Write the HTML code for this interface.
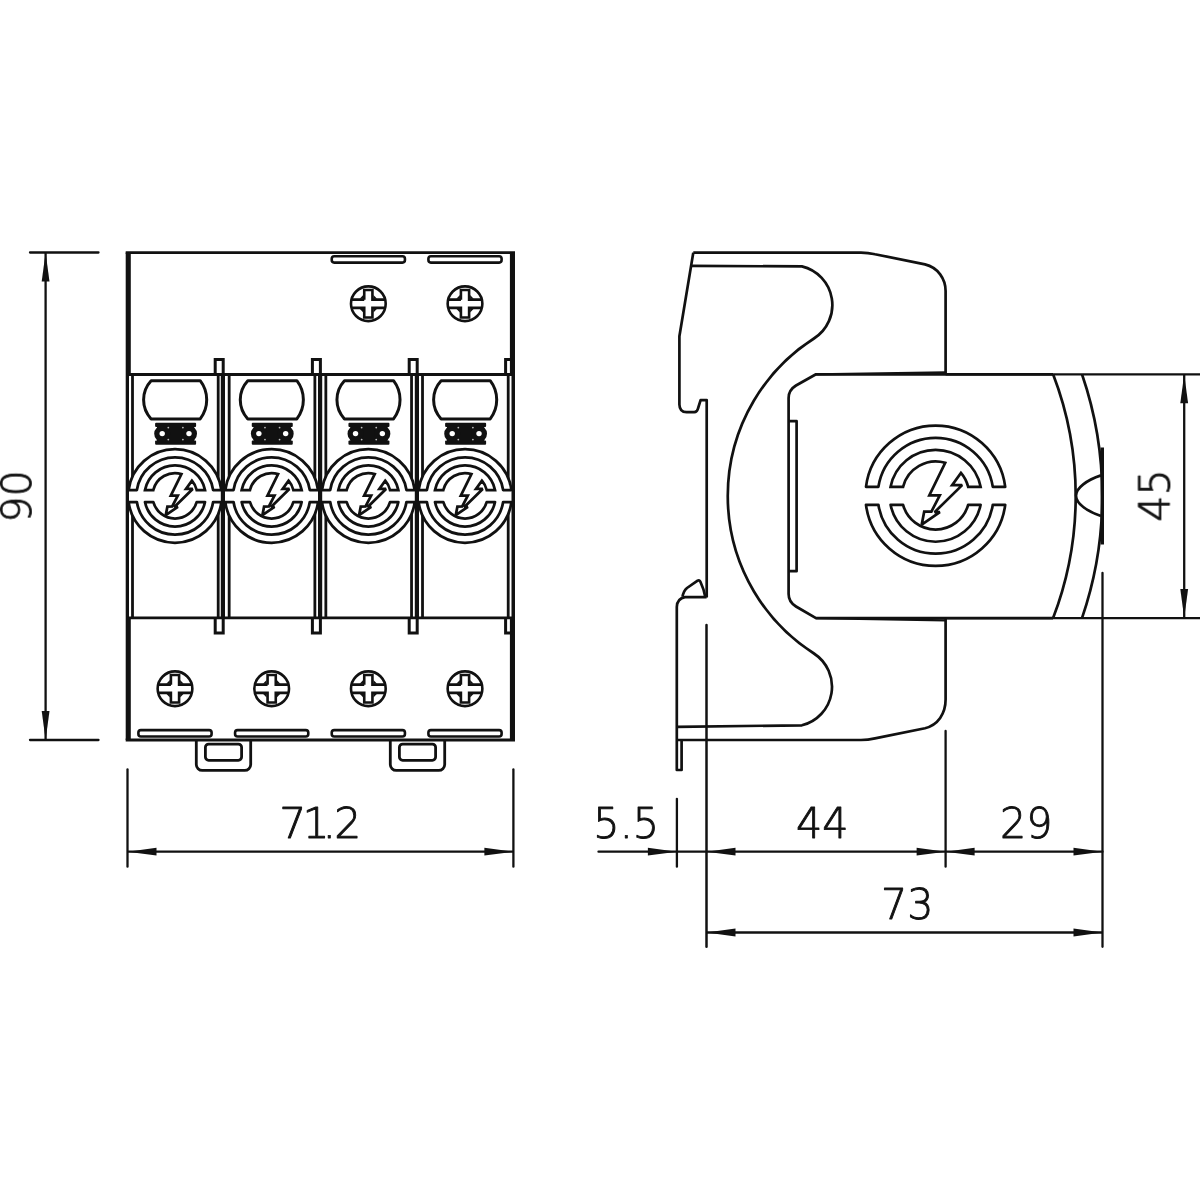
<!DOCTYPE html>
<html lang="en">
<head>
<meta charset="utf-8">
<title>Dimensional drawing</title>
<style>
html,body{margin:0;padding:0;background:#fff}
body{width:1200px;height:1200px;overflow:hidden}
svg{display:block}
</style>
</head>
<body>
<svg width="1200" height="1200" viewBox="0 0 1200 1200">
<rect width="1200" height="1200" fill="#fff"/>
<g id="front" stroke="#111111" fill="none">
<line x1="132.5" y1="374.5" x2="132.5" y2="617.8" stroke-width="2.8"/>
<line x1="218.2" y1="374.5" x2="218.2" y2="617.8" stroke-width="2.8"/>
<line x1="229.17" y1="374.5" x2="229.17" y2="617.8" stroke-width="2.8"/>
<line x1="314.87" y1="374.5" x2="314.87" y2="617.8" stroke-width="2.8"/>
<line x1="325.84" y1="374.5" x2="325.84" y2="617.8" stroke-width="2.8"/>
<line x1="411.54" y1="374.5" x2="411.54" y2="617.8" stroke-width="2.8"/>
<line x1="422.51" y1="374.5" x2="422.51" y2="617.8" stroke-width="2.8"/>
<line x1="508.21" y1="374.5" x2="508.21" y2="617.8" stroke-width="2.8"/>
<path d="M151.1,380.7H200.2A31.31 31.31 0 0 1 200.2,418.9H151.1A28.07 28.07 0 0 1 151.1,380.7Z" stroke-width="3" fill="none" stroke-linejoin="round"/>
<g fill="#111111" stroke="none">
<rect x="155.1" y="422.7" width="41" height="4.4" rx="1"/>
<rect x="155.1" y="440.4" width="41" height="4.4" rx="1"/>
<rect x="157" y="425" width="37.2" height="17.5"/>
<circle cx="162.2" cy="433.75" r="8"/>
<circle cx="189" cy="433.75" r="8"/>
</g>
<g fill="#fff" stroke="none">
<circle cx="162.2" cy="433.6" r="2.7"/><circle cx="189" cy="433.6" r="2.7"/>
<circle cx="168.3" cy="427.6" r="0.9" fill="#bbb"/>
<circle cx="168.3" cy="439.6" r="0.9" fill="#bbb"/>
<circle cx="182.9" cy="427.6" r="0.9" fill="#bbb"/>
<circle cx="182.9" cy="439.6" r="0.9" fill="#bbb"/>
</g>
<g transform="translate(175 496) scale(1)" stroke-width="2.75" fill="#fff" stroke-linejoin="round">
<circle r="46.8" stroke="none"/>
<path d="M-46.41,-6A46.8 46.8 0 0 1 46.41,-6L38.13,-6A38.6 38.6 0 0 0 -38.13,-6Z"/>
<path d="M-46.41,6A46.8 46.8 0 0 0 46.41,6L38.13,6A38.6 38.6 0 0 1 -38.13,6Z"/>
<path d="M-30.01,6A30.6 30.6 0 0 0 30.01,6L21.69,6A22.5 22.5 0 0 1 -21.69,6Z"/>
<path d="M-30.01,-6A30.6 30.6 0 0 1 30.01,-6L21.69,-6A22.5 22.5 0 0 0 16.9,-15.3L11,-7.1L17.7,-7.1L-0.65,10.9L2.85,10.85L-9.25,19.2L-7.6,10.6L-2.8,10.5L2.8,-0.3L-4.2,-0.3L6.4,-22A22.5 22.5 0 0 0 -21.69,-6Z" stroke-linejoin="miter" stroke-miterlimit="2.2"/>
</g>
<path d="M247.77,380.7H296.87A31.31 31.31 0 0 1 296.87,418.9H247.77A28.07 28.07 0 0 1 247.77,380.7Z" stroke-width="3" fill="none" stroke-linejoin="round"/>
<g fill="#111111" stroke="none">
<rect x="251.77" y="422.7" width="41" height="4.4" rx="1"/>
<rect x="251.77" y="440.4" width="41" height="4.4" rx="1"/>
<rect x="253.67" y="425" width="37.2" height="17.5"/>
<circle cx="258.87" cy="433.75" r="8"/>
<circle cx="285.67" cy="433.75" r="8"/>
</g>
<g fill="#fff" stroke="none">
<circle cx="258.87" cy="433.6" r="2.7"/><circle cx="285.67" cy="433.6" r="2.7"/>
<circle cx="264.97" cy="427.6" r="0.9" fill="#bbb"/>
<circle cx="264.97" cy="439.6" r="0.9" fill="#bbb"/>
<circle cx="279.57" cy="427.6" r="0.9" fill="#bbb"/>
<circle cx="279.57" cy="439.6" r="0.9" fill="#bbb"/>
</g>
<g transform="translate(271.67 496) scale(1)" stroke-width="2.75" fill="#fff" stroke-linejoin="round">
<circle r="46.8" stroke="none"/>
<path d="M-46.41,-6A46.8 46.8 0 0 1 46.41,-6L38.13,-6A38.6 38.6 0 0 0 -38.13,-6Z"/>
<path d="M-46.41,6A46.8 46.8 0 0 0 46.41,6L38.13,6A38.6 38.6 0 0 1 -38.13,6Z"/>
<path d="M-30.01,6A30.6 30.6 0 0 0 30.01,6L21.69,6A22.5 22.5 0 0 1 -21.69,6Z"/>
<path d="M-30.01,-6A30.6 30.6 0 0 1 30.01,-6L21.69,-6A22.5 22.5 0 0 0 16.9,-15.3L11,-7.1L17.7,-7.1L-0.65,10.9L2.85,10.85L-9.25,19.2L-7.6,10.6L-2.8,10.5L2.8,-0.3L-4.2,-0.3L6.4,-22A22.5 22.5 0 0 0 -21.69,-6Z" stroke-linejoin="miter" stroke-miterlimit="2.2"/>
</g>
<path d="M344.44,380.7H393.54A31.31 31.31 0 0 1 393.54,418.9H344.44A28.07 28.07 0 0 1 344.44,380.7Z" stroke-width="3" fill="none" stroke-linejoin="round"/>
<g fill="#111111" stroke="none">
<rect x="348.44" y="422.7" width="41" height="4.4" rx="1"/>
<rect x="348.44" y="440.4" width="41" height="4.4" rx="1"/>
<rect x="350.34" y="425" width="37.2" height="17.5"/>
<circle cx="355.54" cy="433.75" r="8"/>
<circle cx="382.34" cy="433.75" r="8"/>
</g>
<g fill="#fff" stroke="none">
<circle cx="355.54" cy="433.6" r="2.7"/><circle cx="382.34" cy="433.6" r="2.7"/>
<circle cx="361.64" cy="427.6" r="0.9" fill="#bbb"/>
<circle cx="361.64" cy="439.6" r="0.9" fill="#bbb"/>
<circle cx="376.24" cy="427.6" r="0.9" fill="#bbb"/>
<circle cx="376.24" cy="439.6" r="0.9" fill="#bbb"/>
</g>
<g transform="translate(368.34 496) scale(1)" stroke-width="2.75" fill="#fff" stroke-linejoin="round">
<circle r="46.8" stroke="none"/>
<path d="M-46.41,-6A46.8 46.8 0 0 1 46.41,-6L38.13,-6A38.6 38.6 0 0 0 -38.13,-6Z"/>
<path d="M-46.41,6A46.8 46.8 0 0 0 46.41,6L38.13,6A38.6 38.6 0 0 1 -38.13,6Z"/>
<path d="M-30.01,6A30.6 30.6 0 0 0 30.01,6L21.69,6A22.5 22.5 0 0 1 -21.69,6Z"/>
<path d="M-30.01,-6A30.6 30.6 0 0 1 30.01,-6L21.69,-6A22.5 22.5 0 0 0 16.9,-15.3L11,-7.1L17.7,-7.1L-0.65,10.9L2.85,10.85L-9.25,19.2L-7.6,10.6L-2.8,10.5L2.8,-0.3L-4.2,-0.3L6.4,-22A22.5 22.5 0 0 0 -21.69,-6Z" stroke-linejoin="miter" stroke-miterlimit="2.2"/>
</g>
<path d="M441.11,380.7H490.21A31.31 31.31 0 0 1 490.21,418.9H441.11A28.07 28.07 0 0 1 441.11,380.7Z" stroke-width="3" fill="none" stroke-linejoin="round"/>
<g fill="#111111" stroke="none">
<rect x="445.11" y="422.7" width="41" height="4.4" rx="1"/>
<rect x="445.11" y="440.4" width="41" height="4.4" rx="1"/>
<rect x="447.01" y="425" width="37.2" height="17.5"/>
<circle cx="452.21" cy="433.75" r="8"/>
<circle cx="479.01" cy="433.75" r="8"/>
</g>
<g fill="#fff" stroke="none">
<circle cx="452.21" cy="433.6" r="2.7"/><circle cx="479.01" cy="433.6" r="2.7"/>
<circle cx="458.31" cy="427.6" r="0.9" fill="#bbb"/>
<circle cx="458.31" cy="439.6" r="0.9" fill="#bbb"/>
<circle cx="472.91" cy="427.6" r="0.9" fill="#bbb"/>
<circle cx="472.91" cy="439.6" r="0.9" fill="#bbb"/>
</g>
<g transform="translate(465.01 496) scale(1)" stroke-width="2.75" fill="#fff" stroke-linejoin="round">
<circle r="46.8" stroke="none"/>
<path d="M-46.41,-6A46.8 46.8 0 0 1 46.41,-6L38.13,-6A38.6 38.6 0 0 0 -38.13,-6Z"/>
<path d="M-46.41,6A46.8 46.8 0 0 0 46.41,6L38.13,6A38.6 38.6 0 0 1 -38.13,6Z"/>
<path d="M-30.01,6A30.6 30.6 0 0 0 30.01,6L21.69,6A22.5 22.5 0 0 1 -21.69,6Z"/>
<path d="M-30.01,-6A30.6 30.6 0 0 1 30.01,-6L21.69,-6A22.5 22.5 0 0 0 16.9,-15.3L11,-7.1L17.7,-7.1L-0.65,10.9L2.85,10.85L-9.25,19.2L-7.6,10.6L-2.8,10.5L2.8,-0.3L-4.2,-0.3L6.4,-22A22.5 22.5 0 0 0 -21.69,-6Z" stroke-linejoin="miter" stroke-miterlimit="2.2"/>
</g>
<line x1="125.7" y1="252.6" x2="515" y2="252.6" stroke-width="2.7"/>
<line x1="125.7" y1="740" x2="515" y2="740" stroke-width="2.9"/>
<line x1="128.1" y1="374.5" x2="512.3" y2="374.5" stroke-width="2.8"/>
<line x1="128.1" y1="617.8" x2="512.3" y2="617.8" stroke-width="2.8"/>
<line x1="127.35" y1="252.6" x2="127.35" y2="740" stroke-width="3.3"/>
<line x1="513.25" y1="252.6" x2="513.25" y2="740" stroke-width="3.5"/>
<line x1="129.4" y1="252.6" x2="129.4" y2="374.5" stroke-width="2.8"/>
<line x1="511.3" y1="252.6" x2="511.3" y2="374.5" stroke-width="2.8"/>
<line x1="129.4" y1="617.8" x2="129.4" y2="740" stroke-width="2.8"/>
<line x1="511.3" y1="617.8" x2="511.3" y2="740" stroke-width="2.8"/>
<line x1="222.9" y1="374.5" x2="222.9" y2="617.8" stroke-width="4.2"/>
<path d="M215.2,374.5V359.5H223.2V374.5" stroke-width="3" fill="none"/>
<path d="M215.2,617.8V632.9H223.2V617.8" stroke-width="3" fill="none"/>
<line x1="320.1" y1="374.5" x2="320.1" y2="617.8" stroke-width="4.2"/>
<path d="M312.4,374.5V359.5H320.4V374.5" stroke-width="3" fill="none"/>
<path d="M312.4,617.8V632.9H320.4V617.8" stroke-width="3" fill="none"/>
<line x1="416.9" y1="374.5" x2="416.9" y2="617.8" stroke-width="4.2"/>
<path d="M409.2,374.5V359.5H417.2V374.5" stroke-width="3" fill="none"/>
<path d="M409.2,617.8V632.9H417.2V617.8" stroke-width="3" fill="none"/>
<path d="M512.3,359.5H505.6V374.5" stroke-width="3" fill="none"/>
<path d="M512.3,632.9H505.6V617.8" stroke-width="3" fill="none"/>
<rect x="331.74" y="256.3" width="73.2" height="6.3" rx="2.5" stroke-width="2.6" fill="none"/>
<rect x="428.41" y="256.3" width="73.2" height="6.3" rx="2.5" stroke-width="2.6" fill="none"/>
<rect x="138.4" y="730.1" width="73.2" height="6.4" rx="2.5" stroke-width="2.6" fill="none"/>
<rect x="235.07" y="730.1" width="73.2" height="6.4" rx="2.5" stroke-width="2.6" fill="none"/>
<rect x="331.74" y="730.1" width="73.2" height="6.4" rx="2.5" stroke-width="2.6" fill="none"/>
<rect x="428.41" y="730.1" width="73.2" height="6.4" rx="2.5" stroke-width="2.6" fill="none"/>
<g transform="translate(368.34 303.75)">
<circle r="17.35" stroke-width="2.6" fill="none"/>
<path d="M-4.1,-4.1V-13.8H4.1V-4.1H16.6M16.6,4.1H4.1V13.8H-4.1V4.1H-16.6M-16.6,-4.1H-4.1" stroke-width="2.6" fill="none"/>
<path d="M-5.1,-5.1L-8.7,-5.1L-5.1,-8.7Z" fill="#111111" stroke="none"/>
<path d="M-5.1,5.1L-8.7,5.1L-5.1,8.7Z" fill="#111111" stroke="none"/>
<path d="M5.1,-5.1L8.7,-5.1L5.1,-8.7Z" fill="#111111" stroke="none"/>
<path d="M5.1,5.1L8.7,5.1L5.1,8.7Z" fill="#111111" stroke="none"/>
</g>
<g transform="translate(465.01 303.75)">
<circle r="17.35" stroke-width="2.6" fill="none"/>
<path d="M-4.1,-4.1V-13.8H4.1V-4.1H16.6M16.6,4.1H4.1V13.8H-4.1V4.1H-16.6M-16.6,-4.1H-4.1" stroke-width="2.6" fill="none"/>
<path d="M-5.1,-5.1L-8.7,-5.1L-5.1,-8.7Z" fill="#111111" stroke="none"/>
<path d="M-5.1,5.1L-8.7,5.1L-5.1,8.7Z" fill="#111111" stroke="none"/>
<path d="M5.1,-5.1L8.7,-5.1L5.1,-8.7Z" fill="#111111" stroke="none"/>
<path d="M5.1,5.1L8.7,5.1L5.1,8.7Z" fill="#111111" stroke="none"/>
</g>
<g transform="translate(175 688.75)">
<circle r="17.35" stroke-width="2.6" fill="none"/>
<path d="M-4.1,-4.1V-13.8H4.1V-4.1H16.6M16.6,4.1H4.1V13.8H-4.1V4.1H-16.6M-16.6,-4.1H-4.1" stroke-width="2.6" fill="none"/>
<path d="M-5.1,-5.1L-8.7,-5.1L-5.1,-8.7Z" fill="#111111" stroke="none"/>
<path d="M-5.1,5.1L-8.7,5.1L-5.1,8.7Z" fill="#111111" stroke="none"/>
<path d="M5.1,-5.1L8.7,-5.1L5.1,-8.7Z" fill="#111111" stroke="none"/>
<path d="M5.1,5.1L8.7,5.1L5.1,8.7Z" fill="#111111" stroke="none"/>
</g>
<g transform="translate(271.67 688.75)">
<circle r="17.35" stroke-width="2.6" fill="none"/>
<path d="M-4.1,-4.1V-13.8H4.1V-4.1H16.6M16.6,4.1H4.1V13.8H-4.1V4.1H-16.6M-16.6,-4.1H-4.1" stroke-width="2.6" fill="none"/>
<path d="M-5.1,-5.1L-8.7,-5.1L-5.1,-8.7Z" fill="#111111" stroke="none"/>
<path d="M-5.1,5.1L-8.7,5.1L-5.1,8.7Z" fill="#111111" stroke="none"/>
<path d="M5.1,-5.1L8.7,-5.1L5.1,-8.7Z" fill="#111111" stroke="none"/>
<path d="M5.1,5.1L8.7,5.1L5.1,8.7Z" fill="#111111" stroke="none"/>
</g>
<g transform="translate(368.34 688.75)">
<circle r="17.35" stroke-width="2.6" fill="none"/>
<path d="M-4.1,-4.1V-13.8H4.1V-4.1H16.6M16.6,4.1H4.1V13.8H-4.1V4.1H-16.6M-16.6,-4.1H-4.1" stroke-width="2.6" fill="none"/>
<path d="M-5.1,-5.1L-8.7,-5.1L-5.1,-8.7Z" fill="#111111" stroke="none"/>
<path d="M-5.1,5.1L-8.7,5.1L-5.1,8.7Z" fill="#111111" stroke="none"/>
<path d="M5.1,-5.1L8.7,-5.1L5.1,-8.7Z" fill="#111111" stroke="none"/>
<path d="M5.1,5.1L8.7,5.1L5.1,8.7Z" fill="#111111" stroke="none"/>
</g>
<g transform="translate(465.01 688.75)">
<circle r="17.35" stroke-width="2.6" fill="none"/>
<path d="M-4.1,-4.1V-13.8H4.1V-4.1H16.6M16.6,4.1H4.1V13.8H-4.1V4.1H-16.6M-16.6,-4.1H-4.1" stroke-width="2.6" fill="none"/>
<path d="M-5.1,-5.1L-8.7,-5.1L-5.1,-8.7Z" fill="#111111" stroke="none"/>
<path d="M-5.1,5.1L-8.7,5.1L-5.1,8.7Z" fill="#111111" stroke="none"/>
<path d="M5.1,-5.1L8.7,-5.1L5.1,-8.7Z" fill="#111111" stroke="none"/>
<path d="M5.1,5.1L8.7,5.1L5.1,8.7Z" fill="#111111" stroke="none"/>
</g>
<path d="M196.3,740.0V764.4a6 6 0 0 0 6,6H244.7a6 6 0 0 0 6,-6V740.0" stroke-width="2.8" fill="none"/>
<rect x="205.4" y="744.1" width="36.2" height="16.2" rx="3.2" stroke-width="2.8"/>
<path d="M390.3,740.0V764.4a6 6 0 0 0 6,6H438.7a6 6 0 0 0 6,-6V740.0" stroke-width="2.8" fill="none"/>
<rect x="399.4" y="744.1" width="36.2" height="16.2" rx="3.2" stroke-width="2.8"/>
</g>
<g id="side" stroke="#111111" fill="none" stroke-linejoin="round">
<path d="M693.3,252.6H861Q868,252.6 875,254.2L925,264.4C938,267.5 945.6,279 945.6,291V374.3" stroke-width="2.7" fill="none"/>
<path d="M676.9,740.0H861Q868,740.0 875,738.4L925,728.2C938,725.1 945.6,713.6 945.6,699.6V618.1" stroke-width="2.7" fill="none"/>
<path d="M816,374.3L945.6,372.5" stroke-width="2.3" fill="none"/>
<path d="M816,618.2L945.6,620.3" stroke-width="2.3" fill="none"/>
<path d="M693.3,252.6L679.4,336.3V404.5Q679.6,412.2 686.5,412.2H694.3Q697,412.2 698,408.5L700.6,400.1H706.7V597.4" stroke-width="2.7" fill="none"/>
<path d="M706.6,597.2H685Q677.2,598.5 676.8,607V770H681.6V740.0" stroke-width="2.7" fill="none"/>
<path d="M682.5,596.8Q683.5,591 687,588L697.6,580.6Q699.4,579.6 700.4,581.8Q704,589.5 705.3,597" stroke-width="2.7" fill="none"/>
<path d="M691.5,265.9L801.9,266.4A39.7 39.7 0 0 1 813.95,338.5A187 187 0 0 0 813.95,653.5A39.7 39.7 0 0 1 801.9,725.3L676.9,726.8" stroke-width="2.7" fill="none"/>
<path d="M1053,374.3H816L796,385.5Q788.6,390 788.6,398V594Q788.6,602 796,606.5L816,618.1H1053" stroke-width="2.7" fill="none"/>
<path d="M788.6,421.2H796.6V571.2H788.6" stroke-width="2.7" fill="none"/>
<path d="M1053.1,374.3A340.05 340.05 0 0 1 1053.1,618.1" stroke-width="2.7" fill="none"/>
<path d="M1082,374.3A376.15 376.15 0 0 1 1082,618.1" stroke-width="2.7" fill="none"/>
<line x1="1102.3" y1="447.5" x2="1102.3" y2="544.5" stroke-width="3.4"/>
<path d="M1101,475.4C1087,480 1076,488 1076,495.7C1076,503.4 1087,511.4 1101,516" stroke-width="2.7" fill="none"/>
<g transform="translate(935.6 495.8) scale(1.5)" stroke-width="1.8" fill="#fff" stroke-linejoin="round">
<path d="M-46.41,-6A46.8 46.8 0 0 1 46.41,-6L38.13,-6A38.6 38.6 0 0 0 -38.13,-6Z"/>
<path d="M-46.41,6A46.8 46.8 0 0 0 46.41,6L38.13,6A38.6 38.6 0 0 1 -38.13,6Z"/>
<path d="M-30.01,6A30.6 30.6 0 0 0 30.01,6L21.69,6A22.5 22.5 0 0 1 -21.69,6Z"/>
<path d="M-30.01,-6A30.6 30.6 0 0 1 30.01,-6L21.69,-6A22.5 22.5 0 0 0 16.9,-15.3L11,-7.1L17.7,-7.1L-0.65,10.9L2.85,10.85L-9.25,19.2L-7.6,10.6L-2.8,10.5L2.8,-0.3L-4.2,-0.3L6.4,-22A22.5 22.5 0 0 0 -21.69,-6Z" stroke-linejoin="miter" stroke-miterlimit="2.2"/>
</g>
</g>
<g id="dims" stroke="#111111" fill="none" stroke-width="2.3">
<line x1="30" y1="252.5" x2="98.5" y2="252.5" stroke-width="2.3" stroke-linecap="round"/>
<line x1="30" y1="740" x2="98.5" y2="740" stroke-width="2.3" stroke-linecap="round"/>
<line x1="45.6" y1="252.5" x2="45.6" y2="740" stroke-width="2.3"/>
<path d="M45.6,252.5L49.5,281.5L41.7,281.5Z" fill="#111111" stroke="none"/>
<path d="M45.6,740L41.7,711L49.5,711Z" fill="#111111" stroke="none"/>
<line x1="127.5" y1="769.5" x2="127.5" y2="866.7" stroke-width="2.3" stroke-linecap="round"/>
<line x1="513.4" y1="769.5" x2="513.4" y2="866.7" stroke-width="2.3" stroke-linecap="round"/>
<line x1="127.5" y1="851.7" x2="513.4" y2="851.7" stroke-width="2.3"/>
<path d="M127.5,851.7L156.5,847.8L156.5,855.6Z" fill="#111111" stroke="none"/>
<path d="M513.4,851.7L484.4,855.6L484.4,847.8Z" fill="#111111" stroke="none"/>
<line x1="945.6" y1="374.3" x2="1200" y2="374.3" stroke-width="2.3"/>
<line x1="945.6" y1="618.1" x2="1200" y2="618.1" stroke-width="2.3"/>
<line x1="1184.2" y1="374.3" x2="1184.2" y2="618.1" stroke-width="2.3"/>
<path d="M1184.2,374.3L1188.1,403.3L1180.3,403.3Z" fill="#111111" stroke="none"/>
<path d="M1184.2,618.1L1180.3,589.1L1188.1,589.1Z" fill="#111111" stroke="none"/>
<line x1="676.9" y1="798.8" x2="676.9" y2="866.7" stroke-width="2.3" stroke-linecap="round"/>
<line x1="706.5" y1="625" x2="706.5" y2="946.8" stroke-width="2.5" stroke-linecap="round"/>
<line x1="945.6" y1="731" x2="945.6" y2="866.7" stroke-width="2.3" stroke-linecap="round"/>
<line x1="1102.5" y1="573" x2="1102.5" y2="946.8" stroke-width="2.3" stroke-linecap="round"/>
<line x1="598.5" y1="851.7" x2="1102.5" y2="851.7" stroke-width="2.3" stroke-linecap="round"/>
<line x1="706.5" y1="932.5" x2="1102.5" y2="932.5" stroke-width="2.3"/>
<path d="M676.9,851.7L647.9,855.6L647.9,847.8Z" fill="#111111" stroke="none"/>
<path d="M706.5,851.7L735.5,847.8L735.5,855.6Z" fill="#111111" stroke="none"/>
<path d="M945.6,851.7L916.6,855.6L916.6,847.8Z" fill="#111111" stroke="none"/>
<path d="M945.6,851.7L974.6,847.8L974.6,855.6Z" fill="#111111" stroke="none"/>
<path d="M1102.5,851.7L1073.5,855.6L1073.5,847.8Z" fill="#111111" stroke="none"/>
<path d="M706.5,932.5L735.5,928.6L735.5,936.4Z" fill="#111111" stroke="none"/>
<path d="M1102.5,932.5L1073.5,936.4L1073.5,928.6Z" fill="#111111" stroke="none"/>
</g>
<g id="labels" font-family="'DejaVu Sans Light', 'DejaVu Sans', 'Liberation Sans', sans-serif" font-weight="200" font-size="42.6" fill="#111111" stroke="#111111" stroke-width="0.9" stroke-linejoin="round" text-anchor="middle" opacity="0.999">
<text x="279.3 302.6 322.6 334.3" y="838.1" text-anchor="start">71.2</text>
<text transform="translate(626.2 838.1) scale(0.97 1)">5.5</text>
<text transform="translate(822.2 838.1) scale(0.97 1)">44</text>
<text transform="translate(1026.2 838.1) scale(0.97 1)">29</text>
<text transform="translate(907.2 918.8) scale(0.97 1)">73</text>
<text transform="translate(31.2 496.5) rotate(-90) scale(0.97 0.96)">90</text>
<text transform="translate(1169.4 495.6) rotate(-90) scale(0.97 1)">45</text>
</g>
</svg>
</body>
</html>
